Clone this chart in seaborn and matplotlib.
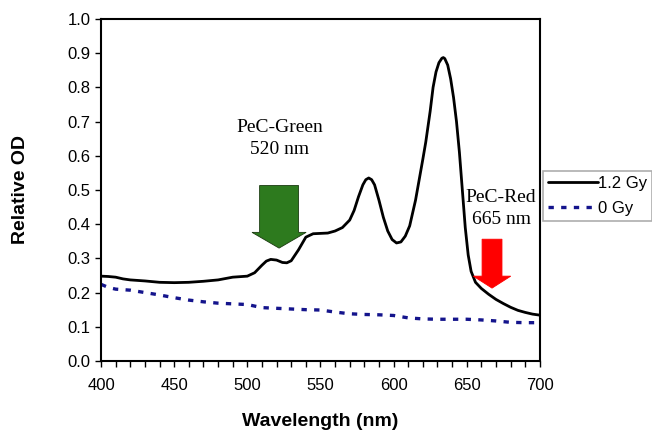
import numpy as np
import pandas as pd
import matplotlib
matplotlib.use('Agg')
import matplotlib.pyplot as plt
from matplotlib.patches import Polygon
from matplotlib.lines import Line2D
import seaborn as sns

# Spectre 1.2 Gy
wl_high = [400, 405, 410, 415, 420, 430, 440, 450, 460, 470, 480, 490, 500, 505,
           510, 513, 516, 520, 524, 527, 530, 535, 540, 545, 550, 555, 560, 565,
           570, 573, 576, 579, 581, 583, 585, 587, 590, 593, 596, 599, 602, 605,
           608, 611, 615, 620, 622, 625, 627, 629, 631, 633, 634, 635, 637, 639,
           641, 643, 645, 647, 649, 651, 653, 656, 660, 665, 670, 675, 680, 685,
           690, 695, 700]
od_high = [0.248, 0.247, 0.245, 0.240, 0.237, 0.234, 0.230, 0.229, 0.230, 0.233,
           0.237, 0.245, 0.248, 0.258, 0.280, 0.292, 0.297, 0.295, 0.288, 0.287,
           0.293, 0.325, 0.362, 0.372, 0.373, 0.374, 0.380, 0.390, 0.412, 0.440,
           0.480, 0.515, 0.530, 0.535, 0.530, 0.515, 0.470, 0.420, 0.380, 0.355,
           0.345, 0.348, 0.365, 0.395, 0.470, 0.590, 0.640, 0.730, 0.800, 0.845,
           0.872, 0.885, 0.887, 0.884, 0.865, 0.825, 0.770, 0.700, 0.610, 0.500,
           0.390, 0.310, 0.262, 0.230, 0.212, 0.195, 0.180, 0.168, 0.157, 0.148,
           0.142, 0.137, 0.134]

# Spectre 0 Gy
wl_zero = [400, 405, 410, 420, 430, 440, 450, 460, 470, 480, 490, 500, 510, 520,
           530, 540, 550, 560, 570, 580, 590, 600, 610, 620, 630, 640, 650, 660,
           670, 680, 690, 700]
od_zero = [0.224, 0.215, 0.210, 0.207, 0.200, 0.193, 0.185, 0.178, 0.173, 0.169,
           0.167, 0.165, 0.156, 0.154, 0.152, 0.150, 0.149, 0.143, 0.138, 0.136,
           0.135, 0.133, 0.126, 0.123, 0.122, 0.122, 0.122, 0.120, 0.117, 0.113,
           0.112, 0.112]

labels = ['1.2 Gy', '0 Gy']
colors = ['black', '#14148c']

df = pd.concat([
    pd.DataFrame({'wl': wl_high, 'od': od_high, 'dose': labels[0]}),
    pd.DataFrame({'wl': wl_zero, 'od': od_zero, 'dose': labels[1]}),
])

sns.set_style('ticks')
plt.rcParams['font.family'] = ['Liberation Sans', 'DejaVu Sans']
plt.rcParams['text.color'] = 'black'
plt.rcParams['axes.labelcolor'] = 'black'

fig = plt.figure(figsize=(6.52, 4.30), dpi=100)
ax = fig.add_axes([0.155, 0.1605, 0.673, 0.7955])

sns.lineplot(data=df, x='wl', y='od', hue='dose', style='dose',
             palette=dict(zip(labels, colors)),
             dashes={labels[0]: '', labels[1]: (1.6, 2.2)},
             linewidth=2.0, ax=ax, legend=False)
for line in ax.lines:
    line.set_solid_capstyle('butt')
    line.set_dash_capstyle('butt')
    line.set_solid_joinstyle('round')
ax.lines[1].set_linewidth(2.4)

ax.set_xlim(400, 700)
ax.set_ylim(0, 1.0)
ax.set_xticks(np.arange(400, 701, 50))
ax.set_xticks(np.arange(400, 701, 10), minor=True)
ax.set_yticks(np.arange(0, 1.01, 0.1))
ax.set_yticklabels([f'{v:.1f}' for v in np.arange(0, 1.01, 0.1)])
ax.tick_params(axis='both', which='both', direction='out', length=4, width=1,
               colors='black', labelsize=12)
ax.tick_params(axis='x', pad=8)
for s in ax.spines.values():
    s.set_visible(True)
    s.set_linewidth(1.5)
    s.set_color('black')

ax.set_xlabel('Wavelength (nm)', fontsize=14, fontweight='bold', labelpad=15)
ax.set_ylabel('Relative OD', fontsize=14, fontweight='bold', labelpad=28)

# Flèches
def down_arrow(xc, shaft_w, head_w, top, base, tip, color, edge):
    pts = [(xc - shaft_w, top), (xc + shaft_w, top), (xc + shaft_w, base),
           (xc + head_w, base), (xc, tip), (xc - head_w, base), (xc - shaft_w, base)]
    ax.add_patch(Polygon(pts, closed=True, facecolor=color, edgecolor=edge,
                         linewidth=0.6, zorder=3))

down_arrow(521.7, 13.3, 18.5, 0.513, 0.376, 0.33, '#2d7a1e', '#1a3a10')
down_arrow(667.3, 6.8, 12.8, 0.356, 0.248, 0.213, 'red', 'red')

ax.text(522, 0.65, 'PeC-Green\n520 nm', ha='center', va='center', fontsize=14,
        family='Liberation Serif', linespacing=1.4)
ax.text(673.5, 0.445, 'PeC-Red\n665 nm', ha='center', va='center', fontsize=14,
        family='Liberation Serif', linespacing=1.4)

# Légende
handles = [Line2D([], [], color=colors[0], lw=2.0),
           Line2D([], [], color=colors[1], lw=2.4, dashes=(1.6, 2.2))]
leg = fig.legend(handles, labels, loc='upper left', bbox_to_anchor=(0.833, 0.602),
                 frameon=True, fancybox=False, fontsize=12, handlelength=3.0,
                 handletextpad=0.0, borderpad=0.3, labelspacing=0.6,
                 borderaxespad=0)
leg.get_frame().set_edgecolor('#999999')
leg.get_frame().set_linewidth(1.2)

fig.savefig('out.png', dpi=100)
